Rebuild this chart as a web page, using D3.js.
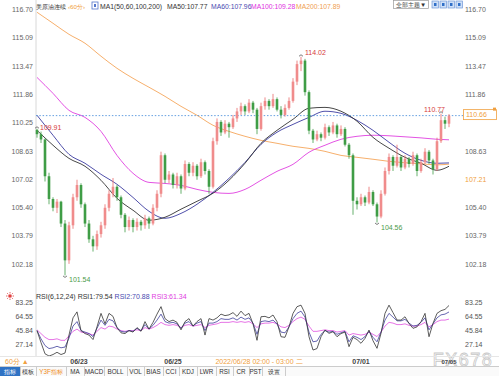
<!DOCTYPE html>
<html><head><meta charset="utf-8">
<script src="https://cdn.jsdelivr.net/npm/d3@7"></script>
<style>body{margin:0;background:#fff}svg{display:block}text{font-family:"Liberation Sans",Arial,sans-serif}</style>
</head><body><svg id="c" width="499" height="376"></svg>
<script>
// ---------- DATA ----------
const ohlc = [
[109.85,109.91,109.40,109.60],[109.60,109.75,109.10,109.30],[109.30,109.35,106.90,107.20],[107.20,107.40,105.60,105.90],
[105.90,106.00,105.20,105.40],[105.40,105.90,105.10,105.75],[105.75,105.80,104.30,104.50],[104.50,104.70,101.54,102.40],
[102.40,104.60,102.20,104.40],[104.40,106.20,104.20,106.00],[106.00,107.00,105.80,106.70],[106.70,106.80,105.40,105.60],
[105.60,105.70,104.30,104.50],[104.50,104.70,103.40,103.60],[103.60,103.80,102.90,103.20],[103.20,104.10,103.00,103.90],
[103.90,104.60,103.70,104.40],[104.40,105.60,104.20,105.40],[105.40,106.40,105.20,106.20],[106.20,107.10,106.00,106.60],
[106.60,106.70,105.80,106.00],[106.00,106.10,104.80,105.00],[105.00,105.10,104.00,104.30],[104.30,104.90,104.10,104.70],
[104.70,104.80,104.00,104.30],[104.30,104.80,104.10,104.60],[104.60,104.70,104.10,104.40],[104.40,105.00,104.20,104.80],
[104.80,104.90,104.20,104.50],[104.50,105.60,104.40,105.40],[105.40,106.40,105.20,106.20],[106.20,108.60,106.00,108.40],
[108.40,108.50,106.80,107.00],[107.00,107.50,106.80,107.30],[107.30,107.40,106.50,106.70],[106.70,107.40,106.50,107.20],
[107.20,107.30,106.20,106.50],[106.50,108.10,106.40,107.90],[107.90,108.00,107.20,107.40],[107.40,108.00,107.20,107.80],
[107.80,107.90,107.00,107.20],[107.20,108.20,107.10,108.00],[108.00,108.10,107.30,107.50],[107.50,107.60,106.20,106.60],
[106.60,109.40,106.50,109.20],[109.20,110.50,109.00,110.30],[110.30,110.40,109.50,109.70],[109.70,110.40,109.60,110.20],
[110.20,110.30,109.40,110.00],[110.00,110.70,109.90,110.50],[110.50,111.10,110.30,110.90],[110.90,111.40,110.70,111.20],
[111.20,111.30,110.70,110.90],[110.90,111.60,110.80,111.40],[111.40,111.50,110.80,111.00],[111.00,111.10,109.60,109.90],
[109.90,111.40,109.80,111.20],[111.20,111.70,111.00,111.50],[111.50,111.60,111.00,111.20],[111.20,111.90,111.10,111.60],
[111.60,111.70,110.90,111.00],[111.00,111.20,110.50,110.70],[110.70,111.30,110.60,111.10],[111.10,111.70,111.00,111.50],
[111.50,112.80,111.40,112.60],[112.60,113.80,112.40,113.60],[113.60,114.02,113.20,113.80],[113.80,113.90,111.80,112.00],
[112.00,112.10,109.60,109.80],[109.80,109.90,109.10,109.30],[109.30,109.80,109.20,109.60],[109.60,109.70,109.20,109.40],
[109.40,110.20,109.30,110.00],[110.00,110.10,109.50,109.70],[109.70,110.30,109.60,110.10],[110.10,110.20,109.40,109.60],
[109.60,110.10,109.50,109.90],[109.90,110.00,108.90,109.00],[109.00,109.10,108.20,108.40],[108.40,108.50,105.00,105.80],
[105.80,106.00,105.30,105.60],[105.60,106.20,105.50,106.00],[106.00,106.10,105.50,105.70],[105.70,106.60,105.60,106.30],
[106.30,106.40,105.50,105.60],[105.60,105.70,104.56,104.90],[104.90,106.40,104.80,106.20],[106.20,107.70,106.10,107.50],
[107.50,108.50,107.30,108.30],[108.30,108.40,107.50,107.80],[107.80,109.00,107.70,108.30],[108.30,108.40,107.50,107.70],
[107.70,108.40,107.60,108.20],[108.20,108.30,107.70,107.90],[107.90,108.60,107.80,108.40],[108.40,108.50,107.20,107.50],
[107.50,108.20,107.40,108.00],[108.00,108.80,107.90,108.60],[108.60,108.70,107.90,108.10],[108.10,108.20,107.30,107.60],
[107.60,109.40,107.50,109.20],[109.20,110.77,109.10,110.40],[110.40,110.60,109.90,110.20],[110.20,110.75,110.00,110.66]
];
const maIdx  = [0,4,8,12,16,20,24,28,32,36,40,44,48,52,56,60,64,68,72,76,80,84,88,92,96,100,103];
const ma50   = [109.82,108.97,108.22,107.77,106.97,105.94,105.26,104.69,104.86,105.32,105.77,106.23,106.97,107.94,109.08,109.82,110.45,111.08,111.13,110.91,110.34,109.42,108.80,108.28,107.94,107.54,107.77];
const ma60   = [110.68,109.54,108.45,107.94,107.31,106.74,105.99,105.20,104.80,105.08,105.60,106.28,107.08,107.99,109.02,109.71,110.16,110.56,110.91,110.79,110.39,109.82,109.14,108.51,108.11,107.94,107.96];
const ma100  = [112.84,111.93,110.96,110.56,109.76,108.39,107.37,106.85,106.79,106.68,106.45,106.28,106.22,106.45,106.97,107.48,107.88,108.57,108.97,109.31,109.48,109.54,109.51,109.45,109.39,109.31,109.28];
const ma200  = [116.56,115.93,115.30,114.79,114.05,113.36,112.79,112.28,111.76,111.19,110.68,110.11,109.76,109.48,109.25,109.08,108.91,108.79,108.62,108.39,108.28,108.17,108.05,107.97,107.91,107.85,107.89];
const rsi1 = [46,30,15,12,14,17,14,16,40,63,71,46,42,40,34,51,69,55,69,65,50,43,42,46,44,50,45,58,48,57,68,78,62,58,60,57,47,58,62,52,58,62,40,62,60,63,68,66,67,70,65,72,66,69,
55,33,64.5,65,63,66.8,57.9,37.8,37,51,69,77.9,80,69,37.8,20,22,37.8,46.7,42.3,44.5,37.8,42,44,24.5,37,34,29,35.6,46.7,32.5,22.3,42.3,69,80,70,60,60,64.5,55.6,49,51,57.9,69,37.8,55.6,69,72.6,74.3,79.54];
const rsi2 = [46,35,26,22,23,25,23,24,36,52,58,46,44,42,38,49,60,53,61,59,50,45,44,46,45,49,46,54,48,53,60,68,58,56,57,55,49,56,58,52,56,58,46,56,56,58,62,61,61,63,60,64,61,63,
56,41,58,59,58,60,55,44,43,51,62,69,72,64,44,31,32,41,46,44,45,41,43,45,31,39,37,34,38,45,37,31,44,60,69,64,59,59,61,56,52,53,57,63,47,55,63,67,68,70.88];
const rsi3 = [47,42,37,34,34,35,33,33,39,45,48,44,43,42,40,45,50,48,52,51,48,46,45,46,46,47,46,50,48,50,53,57,54,53,54,53,50,53,54,52,53,54,50,53,54,55,57,57,57,58,57,58,57,58,
55,50,55,56,56,57,55,51,50,53,58,62,64,61,52,45,45,46,47,46,46,44,45,46,40,42,41,40,41,44,41,38,44,52,57,56,54,54,55,53,52,52,54,57,51,54,58,60,60,61.34];
const priceTicks = [116.70,115.09,113.47,111.86,110.25,108.63,107.02,105.40,103.79,102.18];
const rsiTicks = [83.25,64.55,45.84,27.14];
const dateLabels = ["06/23","06/25","07/01","07/05"];
const dateIdx = [10.5,34,81,103];
const lastPrice = 110.66;
const rightMark = "107.21";
const hiIdx = [0,66,101], hiVal = [109.91,114.02,110.77];
const loIdx = [7,85], loVal = [101.54,104.56];
const tabs = ["指标","模板","Y3F指标","MA","MACD","BOLL","VOL","BIAS","CCI","KDJ","LWR","RSI","CR","PST","设置"];

// ---------- DRAW ----------
const svg = d3.select("#c");
const x = d3.scaleLinear().domain([0, ohlc.length-1]).range([37, 449]);
const y = d3.scaleLinear().domain([102.18,116.70]).range([264.2, 9.8]);
const r = d3.scaleLinear().domain([27.14,83.25]).range([344.7,302.7]);
const UP="#f08c8c", UPW="#e86a6a", DN="#3f9d46";

// frame
svg.append("line").attr("x1",36).attr("x2",36).attr("y1",0).attr("y2",356).attr("stroke","#d8d8d8");

// top legend
const legParts = [["美原油连续","#333",36,6.2],["‹60分›","#f0a040",68,6.2],["MA1(50,60,100,200)","#333",100,6.8],
  ["MA50:107.77","#333",167,6.8],["MA60:107.96","#4a4ab0",211,6.8],["MA100:109.28","#e030e0",251,6.8],["MA200:107.89","#f0a050",296,6.8]];
legParts.forEach(([t,c,px,fs])=>svg.append("text").attr("x",px).attr("y",8.5).attr("font-size",fs).attr("fill",c).text(t));
svg.append("rect").attr("x",92).attr("y",2).attr("width",6).attr("height",7).attr("fill","#fff").attr("stroke","#5577cc").attr("stroke-width",0.8);
svg.append("rect").attr("x",94).attr("y",4).attr("width",2).attr("height",3).attr("fill","#5577cc");

// button + icons top right
svg.append("rect").attr("x",393.5).attr("y",0.5).attr("width",35).attr("height",8).attr("fill","#fff").attr("stroke","#999").attr("stroke-width",0.7);
svg.append("text").attr("x",396).attr("y",7).attr("font-size",6.3).attr("fill","#333").text("全部主题▼");
[432,440,448,456].forEach(px=>{
  svg.append("rect").attr("x",px).attr("y",1).attr("width",6.5).attr("height",7).attr("fill","#cfe0f7").attr("stroke","#6f98d8").attr("stroke-width",0.7);
  svg.append("rect").attr("x",px+2).attr("y",3).attr("width",2.5).attr("height",3).attr("fill","#2f6fc8");
});

// price axis labels
svg.selectAll("text.pl").data(priceTicks).join("text").attr("class","pl")
  .attr("x",33).attr("y",d=>y(d)).attr("dy","0.35em").attr("text-anchor","end")
  .attr("font-size",7).attr("fill","#666").text(d=>d.toFixed(2));
svg.selectAll("text.pr").data(priceTicks.filter(d=>Math.abs(y(d)-y(lastPrice))>10)).join("text").attr("class","pr")
  .attr("x",465).attr("y",d=>y(d)).attr("dy","0.35em")
  .attr("font-size",7).attr("fill",d=>d===107.02?"#f0a040":"#666")
  .text(d=>d===107.02?rightMark:d.toFixed(2));

// MA lines
const maLine = vals => d3.line().curve(d3.curveMonotoneX).x((d,i)=>x(maIdx[i])).y(d=>y(d))(vals);
[[ma200,"#f5a65b"],[ma100,"#e040e0"],[ma60,"#3c3ca0"],[ma50,"#333"]].forEach(([v,c])=>{
  svg.append("path").attr("d",maLine(v)).attr("fill","none").attr("stroke",c).attr("stroke-width",0.9);
});

// last price dotted line
svg.append("line").attr("x1",36).attr("x2",463).attr("y1",y(lastPrice)).attr("y2",y(lastPrice))
  .attr("stroke","#3d86d8").attr("stroke-width",0.8).attr("stroke-dasharray","1.5,1.8");
svg.append("rect").attr("x",463.5).attr("y",y(lastPrice)-6).attr("width",33).attr("height",10)
  .attr("fill","#fff").attr("stroke","#f0a040").attr("stroke-width",0.8);
svg.append("text").attr("x",466).attr("y",y(lastPrice)-1).attr("dy","0.35em").attr("font-size",7).attr("fill","#f0a040").text(lastPrice.toFixed(2));
svg.append("rect").attr("x",493).attr("y",y(lastPrice)-8).attr("width",3).attr("height",3).attr("fill","#f0a040");

// candles
const cg = svg.append("g");
ohlc.forEach((d,i)=>{
  const [o,h,l,c]=d, up=c>=o, cx=x(i);
  cg.append("line").attr("x1",cx).attr("x2",cx).attr("y1",y(h)).attr("y2",y(l)).attr("stroke",up?UPW:DN).attr("stroke-width",0.8);
  const top=y(Math.max(o,c)), bot=y(Math.min(o,c));
  cg.append("rect").attr("x",cx-1.3).attr("width",2.6).attr("y",top).attr("height",Math.max(0.8,bot-top)).attr("fill",up?UP:DN);
});

// high / low marks
hiIdx.forEach((ix,k)=>{
  const cx=x(ix), cy=y(hiVal[k]);
  svg.append("path").attr("d",`M${cx-2},${cy-0.5}L${cx},${cy-2}L${cx+2},${cy-0.5}`).attr("fill","none").attr("stroke","#444").attr("stroke-width",0.7);
  const t=svg.append("text").attr("font-size",7).attr("fill","#d63a3a").text(hiVal[k].toFixed(2));
  if(k===2) t.attr("x",cx+4).attr("y",cy-2).attr("text-anchor","end");
  else if(k===0) t.attr("x",cx+3).attr("y",cy+1);
  else t.attr("x",cx+4).attr("y",cy-2);
});
loIdx.forEach((ix,k)=>{
  const cx=x(ix), cy=y(loVal[k]);
  svg.append("path").attr("d",`M${cx-2},${cy+0.5}L${cx},${cy+2}L${cx+2},${cy+0.5}`).attr("fill","none").attr("stroke","#444").attr("stroke-width",0.7);
  svg.append("text").attr("x",cx+4).attr("y",cy+7).attr("font-size",7).attr("fill","#4a9a4a").text(loVal[k].toFixed(2));
});

// RSI panel
const sun = svg.append("g").attr("transform","translate(10,296)");
sun.append("circle").attr("r",1.8).attr("fill","#e04040");
d3.range(8).forEach(k=>{const a=k*Math.PI/4;
  sun.append("line").attr("x1",2.6*Math.cos(a)).attr("y1",2.6*Math.sin(a)).attr("x2",4*Math.cos(a)).attr("y2",4*Math.sin(a)).attr("stroke","#e04040").attr("stroke-width",0.8);});
const rt = svg.append("text").attr("x",36).attr("y",298.5).attr("font-size",7);
rt.append("tspan").attr("fill","#333").text("RSI(6,12,24) RSI1:79.54 ");
rt.append("tspan").attr("fill","#4a4ab0").text("RSI2:70.88 ");
rt.append("tspan").attr("fill","#e040e0").text("RSI3:61.34");
svg.selectAll("text.rl").data(rsiTicks).join("text").attr("class","rl")
  .attr("x",33).attr("y",d=>r(d)).attr("dy","0.35em").attr("text-anchor","end").attr("font-size",7).attr("fill","#555").text(d=>d.toFixed(2));
svg.selectAll("text.rr").data(rsiTicks).join("text").attr("class","rr")
  .attr("x",465).attr("y",d=>r(d)).attr("dy","0.35em").attr("font-size",7).attr("fill","#555").text(d=>d.toFixed(2));
const rl = d3.line().x((d,i)=>x(i)).y(d=>r(d));
[[rsi3,"#e050e0"],[rsi2,"#40409c"],[rsi1,"#333"]].forEach(([v,c])=>{
  svg.append("path").attr("d",rl(v)).attr("fill","none").attr("stroke",c).attr("stroke-width",0.8);
});

// watermark
svg.append("text").attr("x",463).attr("y",366).attr("text-anchor","middle").attr("font-size",18).attr("letter-spacing",1.5)
  .attr("fill","#fff").attr("fill-opacity",0.6).attr("stroke","#c8c8c8").attr("stroke-width",0.8).text("FX678");

// date axis
svg.append("line").attr("x1",0).attr("x2",499).attr("y1",356.5).attr("y2",356.5).attr("stroke","#e6e6e6");
dateLabels.forEach((t,k)=>{
  svg.append("text").attr("x",x(dateIdx[k])).attr("y",363.5).attr("text-anchor","middle").attr("font-size",k===3?6:7).attr("font-weight","bold").attr("fill","#444").text(t);
});
svg.append("text").attr("x",5).attr("y",363.5).attr("font-size",7).attr("fill","#f0a040").text("60分 ▲");
svg.append("text").attr("x",259).attr("y",363.5).attr("text-anchor","middle").attr("font-size",7).attr("fill","#f0a040").text("2022/06/28 02:00 - 03:00 二");

// tab bar
svg.append("rect").attr("x",0).attr("y",366.5).attr("width",499).attr("height",10).attr("fill","#fafafa");
svg.append("line").attr("x1",0).attr("x2",499).attr("y1",366.5).attr("y2",366.5).attr("stroke","#ccc");
const tabEdges = [0,20,36,66,84,104,127,144,163,179,197,216,233,249,262,285];
svg.append("rect").attr("x",0).attr("y",367).attr("width",20).attr("height",9).attr("fill","#2f72c4");
tabs.forEach((t,k)=>{
  const cjk=/[\u4e00-\u9fff]/.test(t);
  svg.append("text").attr("x",(tabEdges[k]+tabEdges[k+1])/2).attr("y",373.8).attr("text-anchor","middle").attr("font-size",6.3)
    .attr("font-family",cjk?"Noto Sans CJK SC":"Liberation Serif")
    .attr("fill",k===0?"#fff":(k===2?"#f08a20":"#333")).text(t);
  svg.append("line").attr("x1",tabEdges[k+1]+0.5).attr("x2",tabEdges[k+1]+0.5).attr("y1",367).attr("y2",376).attr("stroke","#ccc");
});
</script></body></html>
